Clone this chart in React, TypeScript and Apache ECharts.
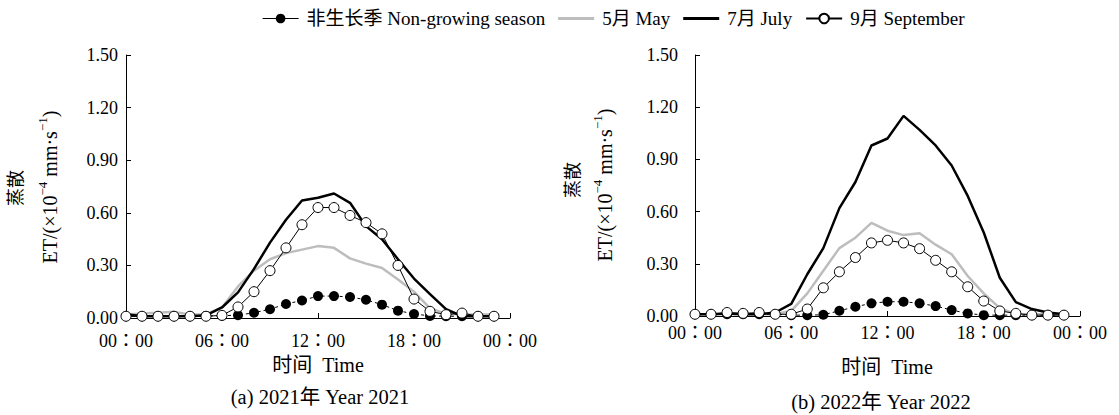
import React, { useEffect, useRef } from "react";
import * as echarts from "echarts";

const HOURS = [0, 1, 2, 3, 4, 5, 6, 7, 8, 9, 10, 11, 12, 13, 14, 15, 16, 17, 18, 19, 20, 21, 22, 23];
const X_TICK_LABELS = ["00：00", "06：00", "12：00", "18：00", "00：00"];
const SERIES_NAMES = ["非生长季 Non-growing season", "5月 May", "7月 July", "9月 September"];

// 2021
const NG_2021 = [0.01, 0.01, 0.01, 0.01, 0.01, 0.012, 0.013, 0.016, 0.03, 0.05, 0.08, 0.1, 0.125, 0.125, 0.12, 0.104, 0.076, 0.042, 0.023, 0.012, 0.01, 0.01, 0.01, 0.01];
const MAY_2021 = [0.02, 0.025, 0.03, 0.035, 0.02, 0.02, 0.06, 0.18, 0.27, 0.335, 0.37, 0.39, 0.41, 0.4, 0.34, 0.31, 0.285, 0.22, 0.15, 0.055, 0.025, 0.02, 0.02, 0.02];
const JUL_2021 = [0.022, 0.01, 0.01, 0.01, 0.01, 0.015, 0.06, 0.146, 0.28, 0.43, 0.56, 0.67, 0.686, 0.71, 0.657, 0.524, 0.449, 0.335, 0.225, 0.136, 0.051, 0.01, 0.01, 0.01];
const SEP_2021 = [0.01, 0.01, 0.01, 0.01, 0.01, 0.01, 0.015, 0.063, 0.15, 0.27, 0.4, 0.532, 0.63, 0.63, 0.585, 0.544, 0.48, 0.3, 0.108, 0.038, 0.019, 0.028, 0.01, 0.01];

// 2022
const NG_2022 = [0.01, 0.01, 0.01, 0.01, 0.01, 0.01, 0.005, 0.005, 0.007, 0.03, 0.053, 0.073, 0.082, 0.082, 0.073, 0.057, 0.034, 0.015, 0.005, 0.005, 0.005, 0.005, 0.005, 0.005];
const MAY_2022 = [0.01, 0.01, 0.01, 0.01, 0.01, 0.01, 0.03, 0.13, 0.26, 0.39, 0.45, 0.535, 0.49, 0.465, 0.475, 0.41, 0.355, 0.23, 0.13, 0.045, 0.01, 0.01, 0.01, 0.01];
const JUL_2022 = [0.01, 0.01, 0.015, 0.01, 0.01, 0.02, 0.07, 0.24, 0.39, 0.62, 0.77, 0.98, 1.02, 1.15, 1.07, 0.98, 0.865, 0.69, 0.48, 0.22, 0.08, 0.04, 0.02, 0.01];
const SEP_2022 = [0.01, 0.01, 0.02, 0.015, 0.02, 0.01, 0.01, 0.04, 0.162, 0.254, 0.336, 0.42, 0.435, 0.42, 0.387, 0.32, 0.254, 0.168, 0.086, 0.029, 0.015, 0.005, 0.005, 0.005];

const FONT = "'Liberation Serif', 'Times New Roman', 'Noto Sans CJK SC', serif";
const TICK_FONT = "'Liberation Serif', 'Times New Roman', 'Noto Sans CJK TC', serif";
const GRAY = "#bdbdbd";

function pairs(values: number[]) {
  return HOURS.map((h, i) => [h, values[i]]);
}

function panelSeries(gi: number, ng: number[], may: number[], jul: number[], sep: number[], sym: number) {
  return [
    {
      name: SERIES_NAMES[1], type: "line", xAxisIndex: gi, yAxisIndex: gi, data: pairs(may),
      symbol: "none", lineStyle: { color: GRAY, width: 2.5 }, itemStyle: { color: GRAY }, z: 2,
    },
    {
      name: SERIES_NAMES[2], type: "line", xAxisIndex: gi, yAxisIndex: gi, data: pairs(jul),
      symbol: "none", lineStyle: { color: "#000", width: 2.5 }, itemStyle: { color: "#000" }, z: 3,
    },
    {
      name: SERIES_NAMES[0], type: "line", xAxisIndex: gi, yAxisIndex: gi, data: pairs(ng),
      symbol: "circle", symbolSize: sym, lineStyle: { color: "#000", width: 1, type: [3, 3] },
      itemStyle: { color: "#000" }, z: 4,
    },
    {
      name: SERIES_NAMES[3], type: "line", xAxisIndex: gi, yAxisIndex: gi, data: pairs(sep),
      symbol: "circle", symbolSize: sym, lineStyle: { color: "#000", width: 1 },
      itemStyle: { color: "#fff", borderColor: "#000", borderWidth: 1 }, z: 5,
    },
  ];
}

function xAxis(gi: number, margin: number) {
  return {
    type: "value", gridIndex: gi, min: 0, max: 24, interval: 6,
    axisLine: { lineStyle: { color: "#000", width: 1 } },
    axisTick: { inside: true, length: 5, lineStyle: { color: "#000" } },
    splitLine: { show: false },
    axisLabel: {
      color: "#000", fontSize: 18, fontFamily: TICK_FONT, margin,
      formatter: (v: number) => X_TICK_LABELS[Math.round(v / 6)],
    },
  };
}

function yAxis(gi: number, margin: number) {
  return {
    type: "value", gridIndex: gi, min: 0, max: 1.5, interval: 0.3,
    axisLine: { show: true, lineStyle: { color: "#000", width: 1 } },
    axisTick: { show: true, inside: true, length: 5, lineStyle: { color: "#000" } },
    splitLine: { show: false },
    axisLabel: {
      color: "#000", fontSize: 18, fontFamily: FONT, margin,
      formatter: (v: number) => v.toFixed(2),
    },
  };
}

function yName(cx: number, cy: number, cnX: number, cnY: number) {
  return [
    {
      type: "text", x: cnX, y: cnY, rotation: Math.PI / 2,
      style: { text: "蒸散", fontSize: 18, fontFamily: FONT, fill: "#000", align: "center", verticalAlign: "middle" },
    },
    {
      type: "text", x: cx, y: cy, rotation: Math.PI / 2,
      style: {
        text: "{n|ET/(×10}{s|−4}{n| mm·s}{s|−1}{n|)}",
        fontSize: 20, fontFamily: FONT, fill: "#000", align: "center", verticalAlign: "middle",
        rich: {
          n: { fontSize: 20, fontFamily: FONT, fill: "#000", lineHeight: 24, verticalAlign: "bottom" },
          s: { fontSize: 13, fontFamily: FONT, fill: "#000", lineHeight: 24, verticalAlign: "top" },
        },
      },
    },
  ];
}

function caption(x: number, y: number, text: string, size: number) {
  return {
    type: "text", x, y,
    style: { text, fontSize: size, fontFamily: FONT, fill: "#000", align: "center", verticalAlign: "middle" },
  };
}

const LINE_ICON = "path://M0,0H36V3H0Z";

export default function App() {
  const ref = useRef<HTMLDivElement>(null);
  useEffect(() => {
    if (!ref.current) return;
    const chart = echarts.init(ref.current, null, { renderer: "svg" });
    chart.setOption({
      animation: false,
      backgroundColor: "#fff",
      legend: {
        data: [
          { name: SERIES_NAMES[0], lineStyle: { type: "solid", width: 1.2 } },
          { name: SERIES_NAMES[1], icon: LINE_ICON, itemStyle: { color: GRAY } },
          { name: SERIES_NAMES[2], icon: LINE_ICON, itemStyle: { color: "#000" } },
          { name: SERIES_NAMES[3] },
        ],
        left: 257, top: 4,
        itemWidth: 36, itemHeight: 12, itemGap: 13,
        textStyle: { fontSize: 19, fontFamily: FONT, color: "#000", padding: [0, 0, 0, 3] },
      },
      grid: [
        { left: 126, top: 55, width: 384, height: 263 },
        { left: 695, top: 55, width: 385, height: 261 },
      ],
      xAxis: [xAxis(0, 14), xAxis(1, 8)],
      yAxis: [yAxis(0, 8), yAxis(1, 17)],
      series: [
        ...panelSeries(0, NG_2021, MAY_2021, JUL_2021, SEP_2021, 10),
        ...panelSeries(1, NG_2022, MAY_2022, JUL_2022, SEP_2022, 10),
      ],
      graphic: [
        ...yName(48, 187, 16, 188),
        ...yName(603, 185, 573, 180),
        caption(318, 365, "时间  Time", 20),
        caption(320, 397, "(a) 2021年 Year 2021", 20.5),
        caption(887, 367, "时间  Time", 20),
        caption(881, 402, "(b) 2022年 Year 2022", 20.5),
      ],
    });
    return () => chart.dispose();
  }, []);
  return <div ref={ref} style={{ position: "absolute", left: 0, top: 0, width: 1119, height: 415 }} />;
}
